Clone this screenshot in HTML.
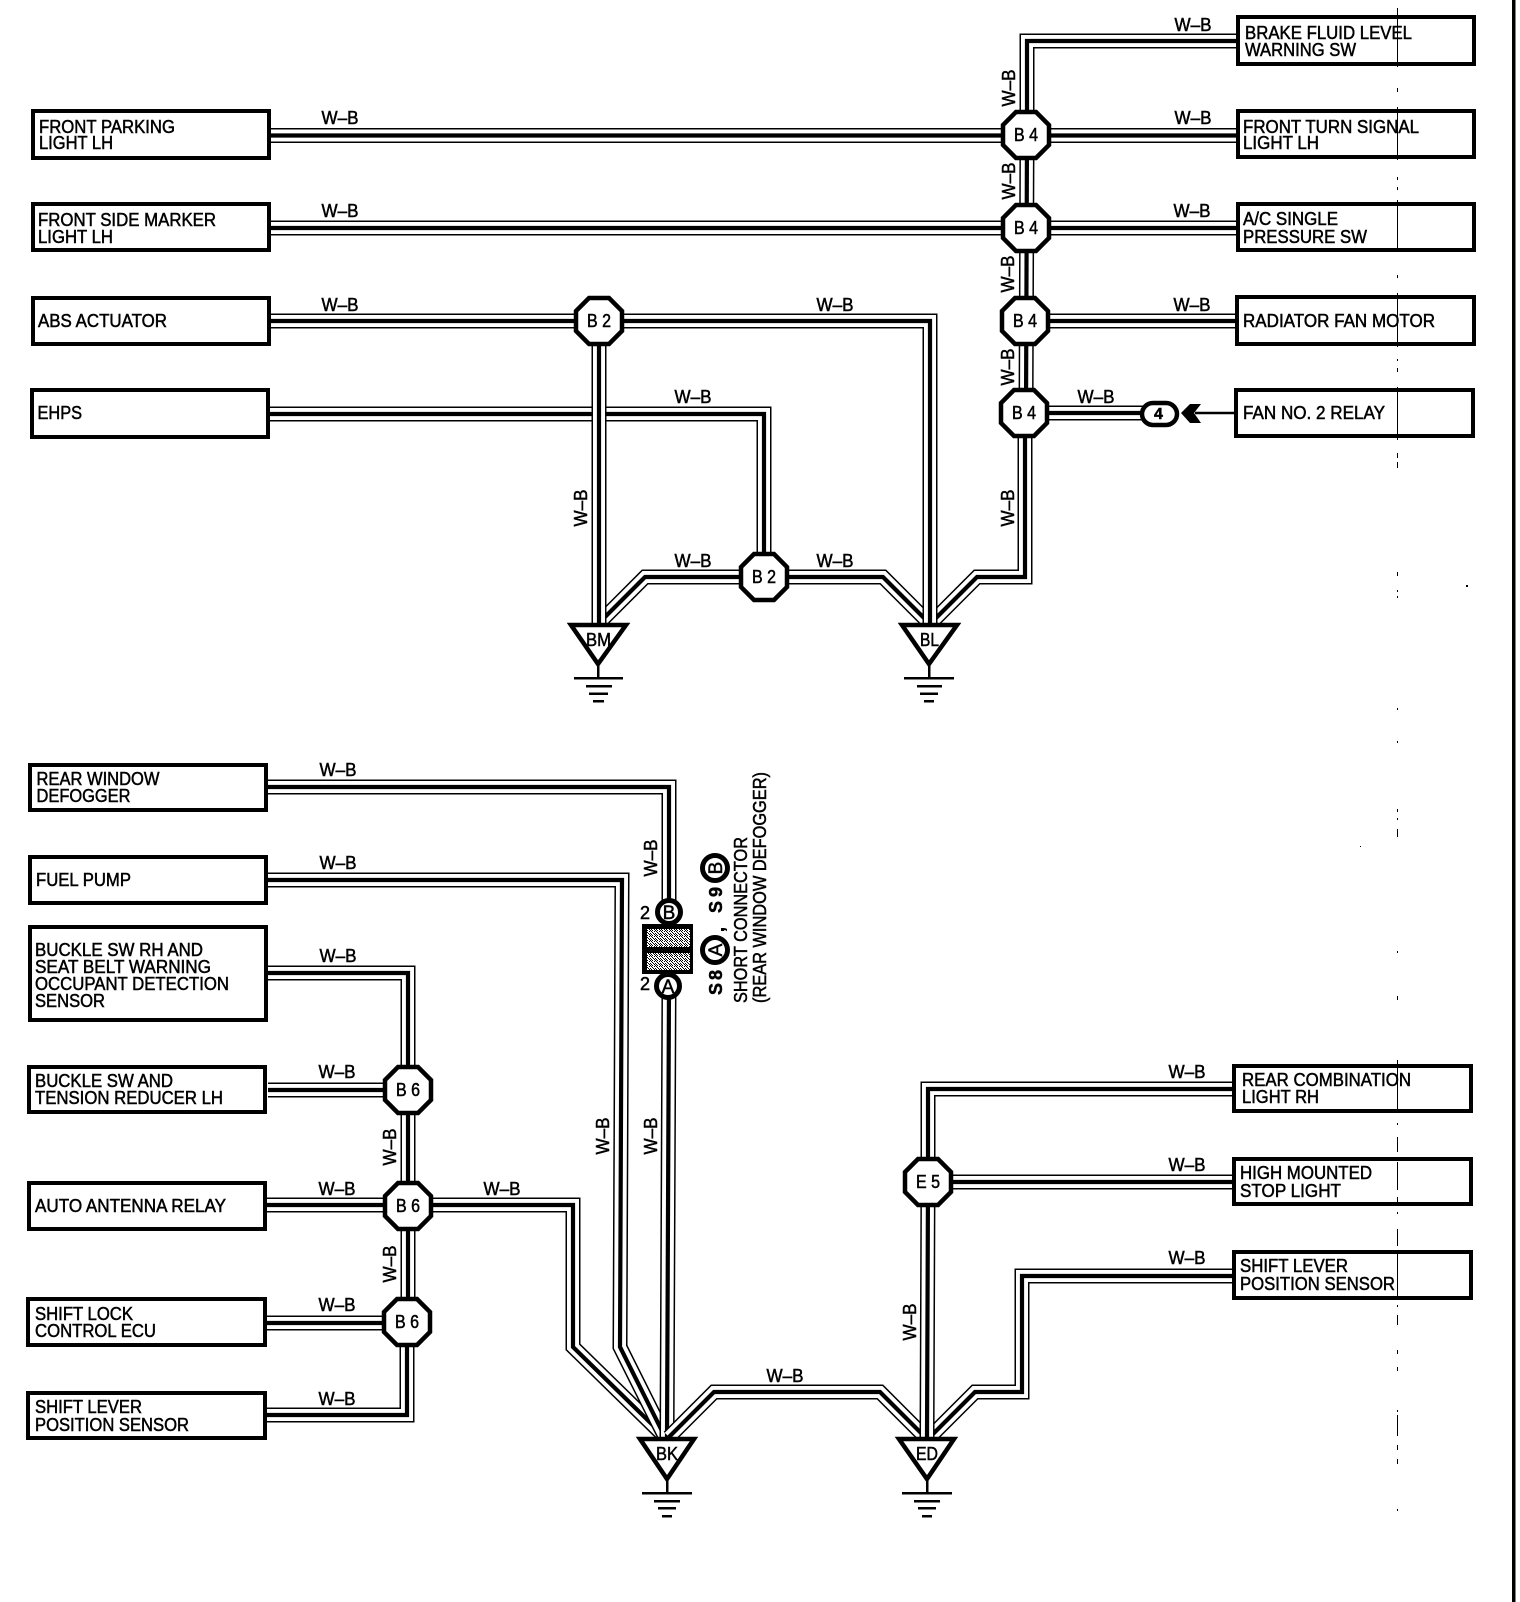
<!DOCTYPE html>
<html><head><meta charset="utf-8"><style>
html,body{margin:0;padding:0;background:#fff}
svg{display:block}
.a,.b,.c{fill:none;stroke-linejoin:miter}
.a{stroke:#000;stroke-width:15}
.b{stroke:#fff;stroke-width:12}
.c{stroke:#000;stroke-width:4.2}
text{font-family:"Liberation Sans",sans-serif;fill:#000;stroke:#000;stroke-width:.5}
.t{font-size:18px}
.w{font-size:18px}
.n{font-size:18px}
.box{fill:#fff;stroke:#000;stroke-width:4}
.d{stroke:#000;stroke-width:1}
</style></head><body>
<svg width="1520" height="1602" viewBox="0 0 1520 1602" xmlns="http://www.w3.org/2000/svg">
<defs>
<polygon id="oct" points="-10,-23 10,-23 23,-10 23,10 10,23 -10,23 -23,10 -23,-10" fill="#fff" stroke="#000" stroke-width="4.5"/>
<pattern id="st" width="5" height="5" patternUnits="userSpaceOnUse"><rect width="5" height="5" fill="#fff"/><rect width="1" height="1" fill="#000"/><rect x="2" y="0" width="1" height="1" fill="#000"/><rect x="1" y="1" width="1" height="1" fill="#000"/><rect x="4" y="1" width="1" height="1" fill="#000"/><rect x="2" y="2" width="1" height="1" fill="#000"/><rect x="0" y="3" width="1" height="1" fill="#000"/><rect x="3" y="3" width="1" height="1" fill="#000"/><rect x="1" y="4" width="1" height="1" fill="#000"/><rect x="4" y="4" width="1" height="1" fill="#000"/></pattern>
</defs>
<rect width="1520" height="1602" fill="#fff"/>
<rect x="1512" y="0" width="3.5" height="1602" fill="#000"/>
<rect x="1466" y="585" width="2" height="2" fill="#000"/>
<rect x="1360" y="846" width="1" height="1" fill="#000"/>

<!-- top wires -->
<polyline class="a" points="1240,41 1027,41 1027,110"/><polyline class="b" points="1240,41 1027,41 1027,110"/><polyline class="c" points="1240,41 1027,41 1027,110"/>
<polyline class="a" points="271,135.500 1240,135.500"/><polyline class="b" points="271,135.500 1240,135.500"/><polyline class="c" points="271,135.500 1240,135.500"/>
<polyline class="a" points="271,228 1240,228"/><polyline class="b" points="271,228 1240,228"/><polyline class="c" points="271,228 1240,228"/>
<polyline class="a" points="1027,135 1026,413"/><polyline class="b" points="1027,135 1026,413"/><polyline class="c" points="1027,135 1026,413"/>
<polyline class="a" points="1027,321 1238,321"/><polyline class="b" points="1027,321 1238,321"/><polyline class="c" points="1027,321 1238,321"/>
<polyline class="a" points="1026,413 1145,413"/><polyline class="b" points="1026,413 1145,413"/><polyline class="c" points="1026,413 1145,413"/>
<polyline class="a" points="764,577 645,577 599,623"/><polyline class="b" points="764,577 645,577 599,623"/><polyline class="c" points="764,577 645,577 599,623"/>
<polyline class="a" points="764,577 883,577 929,623"/><polyline class="b" points="764,577 883,577 929,623"/><polyline class="c" points="764,577 883,577 929,623"/>
<polyline class="a" points="1025,413 1025,577 977,577 931,623"/><polyline class="b" points="1025,413 1025,577 977,577 931,623"/><polyline class="c" points="1025,413 1025,577 977,577 931,623"/>
<polyline class="a" points="271,321 930,321 930,623"/><polyline class="b" points="271,321 930,321 930,623"/><polyline class="c" points="271,321 930,321 930,623"/>
<polyline class="a" points="270,414 764,414 764,577"/><polyline class="b" points="270,414 764,414 764,577"/><polyline class="c" points="270,414 764,414 764,577"/>
<polyline class="a" points="599,321 599,623"/><polyline class="b" points="599,321 599,623"/><polyline class="c" points="599,321 599,623"/>

<!-- bottom wires -->
<polyline class="a" points="268,787 669,787 669,913"/><polyline class="b" points="268,787 669,787 669,913"/><polyline class="c" points="268,787 669,787 669,913"/>
<polyline class="a" points="267,1205 573,1205 573,1347 665,1437"/><polyline class="b" points="267,1205 573,1205 573,1347 665,1437"/><polyline class="c" points="267,1205 573,1205 573,1347 665,1437"/>
<polyline class="a" points="268,880 622,880 620,1347 665,1437"/><polyline class="b" points="268,880 622,880 620,1347 665,1437"/><polyline class="c" points="268,880 622,880 620,1347 665,1437"/>
<polyline class="a" points="669,987 667,1437"/><polyline class="b" points="669,987 667,1437"/><polyline class="c" points="669,987 667,1437"/>
<polyline class="a" points="268,973 408,973 408,1090"/><polyline class="b" points="268,973 408,973 408,1090"/><polyline class="c" points="268,973 408,973 408,1090"/>
<polyline class="a" points="408,1090 408,1322"/><polyline class="b" points="408,1090 408,1322"/><polyline class="c" points="408,1090 408,1322"/>
<polyline class="a" points="268,1090 408,1090"/><polyline class="b" points="268,1090 408,1090"/><polyline class="c" points="268,1090 408,1090"/>
<polyline class="a" points="267,1323 407,1323"/><polyline class="b" points="267,1323 407,1323"/><polyline class="c" points="267,1323 407,1323"/>
<polyline class="a" points="267,1415 407,1415 407,1322"/><polyline class="b" points="267,1415 407,1415 407,1322"/><polyline class="c" points="267,1415 407,1415 407,1322"/>
<polyline class="a" points="669,1437 714,1392 880,1392 925,1437"/><polyline class="b" points="669,1437 714,1392 880,1392 925,1437"/><polyline class="c" points="669,1437 714,1392 880,1392 925,1437"/>
<polyline class="a" points="1236,1276 1022,1276 1022,1392 975,1392 930,1437"/><polyline class="b" points="1236,1276 1022,1276 1022,1392 975,1392 930,1437"/><polyline class="c" points="1236,1276 1022,1276 1022,1392 975,1392 930,1437"/>
<polyline class="a" points="1236,1089 928,1089 928,1182 927,1437"/><polyline class="b" points="1236,1089 928,1089 928,1182 927,1437"/><polyline class="c" points="1236,1089 928,1089 928,1182 927,1437"/>
<polyline class="a" points="928,1182 1236,1182"/><polyline class="b" points="928,1182 1236,1182"/><polyline class="c" points="928,1182 1236,1182"/>

<!-- octagons -->
<use href="#oct" x="1026" y="135"/><use href="#oct" x="1026" y="228"/><use href="#oct" x="1025" y="321"/><use href="#oct" x="1024" y="413"/>
<use href="#oct" x="599" y="321"/><use href="#oct" x="764" y="577"/>
<use href="#oct" x="408" y="1090"/><use href="#oct" x="408" y="1206"/><use href="#oct" x="407" y="1322"/><use href="#oct" x="928" y="1182"/>
<text class="n" x="1014" y="141" textLength="24" lengthAdjust="spacingAndGlyphs">B 4</text>
<text class="n" x="1014" y="234" textLength="24" lengthAdjust="spacingAndGlyphs">B 4</text>
<text class="n" x="1013" y="327" textLength="24" lengthAdjust="spacingAndGlyphs">B 4</text>
<text class="n" x="1012" y="419" textLength="24" lengthAdjust="spacingAndGlyphs">B 4</text>
<text class="n" x="587" y="327" textLength="24" lengthAdjust="spacingAndGlyphs">B 2</text>
<text class="n" x="752" y="583" textLength="24" lengthAdjust="spacingAndGlyphs">B 2</text>
<text class="n" x="396" y="1096" textLength="24" lengthAdjust="spacingAndGlyphs">B 6</text>
<text class="n" x="396" y="1212" textLength="24" lengthAdjust="spacingAndGlyphs">B 6</text>
<text class="n" x="395" y="1328" textLength="24" lengthAdjust="spacingAndGlyphs">B 6</text>
<text class="n" x="916" y="1188" textLength="24" lengthAdjust="spacingAndGlyphs">E 5</text>

<!-- boxes -->
<rect class="box" x="1238" y="17" width="236" height="47"/>
<rect class="box" x="1238" y="111" width="236" height="46"/>
<rect class="box" x="1238" y="204" width="236" height="46"/>
<rect class="box" x="1237" y="297" width="237" height="47"/>
<rect class="box" x="1236" y="390" width="237" height="46"/>
<rect class="box" x="33" y="111" width="236" height="47"/>
<rect class="box" x="33" y="204" width="236" height="46"/>
<rect class="box" x="33" y="298" width="236" height="46"/>
<rect class="box" x="32" y="390" width="236" height="47"/>
<rect class="box" x="30" y="765" width="236" height="45"/>
<rect class="box" x="30" y="857" width="236" height="46"/>
<rect class="box" x="30" y="927" width="236" height="93"/>
<rect class="box" x="29" y="1067" width="236" height="45"/>
<rect class="box" x="29" y="1183" width="236" height="46"/>
<rect class="box" x="28" y="1299" width="237" height="46"/>
<rect class="box" x="28" y="1393" width="237" height="45"/>
<rect class="box" x="1234" y="1066" width="237" height="45"/>
<rect class="box" x="1234" y="1159" width="237" height="45"/>
<rect class="box" x="1234" y="1252" width="237" height="46"/>

<!-- dashed, over the boxes -->
<g class="d">
<line x1="1397.500" y1="8" x2="1397.500" y2="67"/><line x1="1397.500" y1="88" x2="1397.500" y2="92"/><line x1="1397.500" y1="107" x2="1397.500" y2="160"/><line x1="1397.500" y1="177" x2="1397.500" y2="180"/><line x1="1397.500" y1="187" x2="1397.500" y2="190"/><line x1="1397.500" y1="200" x2="1397.500" y2="252"/><line x1="1397.500" y1="275" x2="1397.500" y2="278"/><line x1="1397.500" y1="293" x2="1397.500" y2="347"/><line x1="1397.500" y1="359" x2="1397.500" y2="361"/><line x1="1397.500" y1="368" x2="1397.500" y2="372"/><line x1="1397.500" y1="387" x2="1397.500" y2="440"/><line x1="1397.500" y1="453" x2="1397.500" y2="458"/><line x1="1397.500" y1="462" x2="1397.500" y2="468"/>
<line x1="1397.500" y1="572" x2="1397.500" y2="576"/><line x1="1397.500" y1="590" x2="1397.500" y2="592"/><line x1="1397.500" y1="596" x2="1397.500" y2="598"/><line x1="1397.500" y1="708" x2="1397.500" y2="710"/><line x1="1397.500" y1="741" x2="1397.500" y2="743"/><line x1="1397.500" y1="809" x2="1397.500" y2="812"/><line x1="1397.500" y1="818" x2="1397.500" y2="820"/><line x1="1397.500" y1="829" x2="1397.500" y2="837"/><line x1="1397.500" y1="951" x2="1397.500" y2="953"/><line x1="1397.500" y1="996" x2="1397.500" y2="1000"/>
<line x1="1397.500" y1="1060" x2="1397.500" y2="1111"/><line x1="1397.500" y1="1123" x2="1397.500" y2="1125"/><line x1="1397.500" y1="1137" x2="1397.500" y2="1152"/><line x1="1397.500" y1="1162" x2="1397.500" y2="1190"/><line x1="1397.500" y1="1197" x2="1397.500" y2="1204"/><line x1="1397.500" y1="1212" x2="1397.500" y2="1214"/><line x1="1397.500" y1="1229" x2="1397.500" y2="1246"/><line x1="1397.500" y1="1253" x2="1397.500" y2="1299"/><line x1="1397.500" y1="1305" x2="1397.500" y2="1307"/><line x1="1397.500" y1="1315" x2="1397.500" y2="1325"/><line x1="1397.500" y1="1350" x2="1397.500" y2="1354"/><line x1="1397.500" y1="1367" x2="1397.500" y2="1371"/><line x1="1397.500" y1="1410" x2="1397.500" y2="1412"/><line x1="1397.500" y1="1415" x2="1397.500" y2="1436"/><line x1="1397.500" y1="1445" x2="1397.500" y2="1450"/><line x1="1397.500" y1="1459" x2="1397.500" y2="1464"/><line x1="1397.500" y1="1509" x2="1397.500" y2="1511"/>
</g>

<!-- box text -->
<text class="t" x="1245" y="39" textLength="167" lengthAdjust="spacingAndGlyphs">BRAKE FLUID LEVEL</text>
<text class="t" x="1245" y="56" textLength="111" lengthAdjust="spacingAndGlyphs">WARNING SW</text>
<text class="t" x="1243" y="133" textLength="176" lengthAdjust="spacingAndGlyphs">FRONT TURN SIGNAL</text>
<text class="t" x="1243" y="149" textLength="76" lengthAdjust="spacingAndGlyphs">LIGHT LH</text>
<text class="t" x="1243" y="225" textLength="95" lengthAdjust="spacingAndGlyphs">A/C SINGLE</text>
<text class="t" x="1243" y="243" textLength="124" lengthAdjust="spacingAndGlyphs">PRESSURE SW</text>
<text class="t" x="1243" y="327" textLength="192" lengthAdjust="spacingAndGlyphs">RADIATOR FAN MOTOR</text>
<text class="t" x="1243" y="419" textLength="142" lengthAdjust="spacingAndGlyphs">FAN NO. 2 RELAY</text>
<text class="t" x="39" y="133" textLength="136" lengthAdjust="spacingAndGlyphs">FRONT PARKING</text>
<text class="t" x="39" y="149" textLength="74" lengthAdjust="spacingAndGlyphs">LIGHT LH</text>
<text class="t" x="38" y="226" textLength="178" lengthAdjust="spacingAndGlyphs">FRONT SIDE MARKER</text>
<text class="t" x="38" y="243" textLength="75" lengthAdjust="spacingAndGlyphs">LIGHT LH</text>
<text class="t" x="38" y="327" textLength="129" lengthAdjust="spacingAndGlyphs">ABS ACTUATOR</text>
<text class="t" x="37.500" y="419" textLength="44.500" lengthAdjust="spacingAndGlyphs">EHPS</text>
<text class="t" x="36.500" y="785" textLength="123" lengthAdjust="spacingAndGlyphs">REAR WINDOW</text>
<text class="t" x="36.500" y="802" textLength="94" lengthAdjust="spacingAndGlyphs">DEFOGGER</text>
<text class="t" x="36" y="886" textLength="95" lengthAdjust="spacingAndGlyphs">FUEL PUMP</text>
<text class="t" x="35" y="956" textLength="168" lengthAdjust="spacingAndGlyphs">BUCKLE SW RH AND</text>
<text class="t" x="35" y="973" textLength="176" lengthAdjust="spacingAndGlyphs">SEAT BELT WARNING</text>
<text class="t" x="35" y="990" textLength="194" lengthAdjust="spacingAndGlyphs">OCCUPANT DETECTION</text>
<text class="t" x="35" y="1007" textLength="70" lengthAdjust="spacingAndGlyphs">SENSOR</text>
<text class="t" x="35" y="1087" textLength="138" lengthAdjust="spacingAndGlyphs">BUCKLE SW AND</text>
<text class="t" x="35" y="1104" textLength="188" lengthAdjust="spacingAndGlyphs">TENSION REDUCER LH</text>
<text class="t" x="35" y="1212" textLength="191" lengthAdjust="spacingAndGlyphs">AUTO ANTENNA RELAY</text>
<text class="t" x="35" y="1320" textLength="98" lengthAdjust="spacingAndGlyphs">SHIFT LOCK</text>
<text class="t" x="35" y="1337" textLength="121" lengthAdjust="spacingAndGlyphs">CONTROL ECU</text>
<text class="t" x="35" y="1413" textLength="107" lengthAdjust="spacingAndGlyphs">SHIFT LEVER</text>
<text class="t" x="35" y="1431" textLength="154" lengthAdjust="spacingAndGlyphs">POSITION SENSOR</text>
<text class="t" x="1242" y="1086" textLength="169" lengthAdjust="spacingAndGlyphs">REAR COMBINATION</text>
<text class="t" x="1242" y="1103" textLength="77" lengthAdjust="spacingAndGlyphs">LIGHT RH</text>
<text class="t" x="1240" y="1179" textLength="132" lengthAdjust="spacingAndGlyphs">HIGH MOUNTED</text>
<text class="t" x="1240" y="1197" textLength="101" lengthAdjust="spacingAndGlyphs">STOP LIGHT</text>
<text class="t" x="1240" y="1272" textLength="108" lengthAdjust="spacingAndGlyphs">SHIFT LEVER</text>
<text class="t" x="1240" y="1290" textLength="155" lengthAdjust="spacingAndGlyphs">POSITION SENSOR</text>

<!-- W-B labels horizontal -->
<g transform="translate(0 -1)">
<text class="w" x="1174.500" y="32" textLength="37" lengthAdjust="spacingAndGlyphs">W–B</text>
<text class="w" x="1174.500" y="125" textLength="37" lengthAdjust="spacingAndGlyphs">W–B</text>
<text class="w" x="1173.500" y="218" textLength="37" lengthAdjust="spacingAndGlyphs">W–B</text>
<text class="w" x="1173.500" y="312" textLength="37" lengthAdjust="spacingAndGlyphs">W–B</text>
<text class="w" x="1077.500" y="404" textLength="37" lengthAdjust="spacingAndGlyphs">W–B</text>
<text class="w" x="321.500" y="125" textLength="37" lengthAdjust="spacingAndGlyphs">W–B</text>
<text class="w" x="321.500" y="218" textLength="37" lengthAdjust="spacingAndGlyphs">W–B</text>
<text class="w" x="321.500" y="312" textLength="37" lengthAdjust="spacingAndGlyphs">W–B</text>
<text class="w" x="816.500" y="312" textLength="37" lengthAdjust="spacingAndGlyphs">W–B</text>
<text class="w" x="674.500" y="404" textLength="37" lengthAdjust="spacingAndGlyphs">W–B</text>
<text class="w" x="674.500" y="568" textLength="37" lengthAdjust="spacingAndGlyphs">W–B</text>
<text class="w" x="816.500" y="568" textLength="37" lengthAdjust="spacingAndGlyphs">W–B</text>
<text class="w" x="319.500" y="777" textLength="37" lengthAdjust="spacingAndGlyphs">W–B</text>
<text class="w" x="319.500" y="870" textLength="37" lengthAdjust="spacingAndGlyphs">W–B</text>
<text class="w" x="319.500" y="963" textLength="37" lengthAdjust="spacingAndGlyphs">W–B</text>
<text class="w" x="318.500" y="1079" textLength="37" lengthAdjust="spacingAndGlyphs">W–B</text>
<text class="w" x="318.500" y="1196" textLength="37" lengthAdjust="spacingAndGlyphs">W–B</text>
<text class="w" x="483.500" y="1196" textLength="37" lengthAdjust="spacingAndGlyphs">W–B</text>
<text class="w" x="318.500" y="1312" textLength="37" lengthAdjust="spacingAndGlyphs">W–B</text>
<text class="w" x="318.500" y="1406" textLength="37" lengthAdjust="spacingAndGlyphs">W–B</text>
<text class="w" x="1168.500" y="1079" textLength="37" lengthAdjust="spacingAndGlyphs">W–B</text>
<text class="w" x="1168.500" y="1172" textLength="37" lengthAdjust="spacingAndGlyphs">W–B</text>
<text class="w" x="1168.500" y="1265" textLength="37" lengthAdjust="spacingAndGlyphs">W–B</text>
<text class="w" x="766.500" y="1383" textLength="37" lengthAdjust="spacingAndGlyphs">W–B</text>
</g>

<!-- W-B labels vertical -->
<text class="w" transform="translate(1015 106.500) rotate(-90)" textLength="37" lengthAdjust="spacingAndGlyphs">W–B</text>
<text class="w" transform="translate(1015 199.500) rotate(-90)" textLength="37" lengthAdjust="spacingAndGlyphs">W–B</text>
<text class="w" transform="translate(1014 292.500) rotate(-90)" textLength="37" lengthAdjust="spacingAndGlyphs">W–B</text>
<text class="w" transform="translate(1014 385.500) rotate(-90)" textLength="37" lengthAdjust="spacingAndGlyphs">W–B</text>
<text class="w" transform="translate(1014 526.500) rotate(-90)" textLength="37" lengthAdjust="spacingAndGlyphs">W–B</text>
<text class="w" transform="translate(587 526.500) rotate(-90)" textLength="37" lengthAdjust="spacingAndGlyphs">W–B</text>
<text class="w" transform="translate(657 876.500) rotate(-90)" textLength="37" lengthAdjust="spacingAndGlyphs">W–B</text>
<text class="w" transform="translate(609 1154.500) rotate(-90)" textLength="37" lengthAdjust="spacingAndGlyphs">W–B</text>
<text class="w" transform="translate(657 1154.500) rotate(-90)" textLength="37" lengthAdjust="spacingAndGlyphs">W–B</text>
<text class="w" transform="translate(396 1165.500) rotate(-90)" textLength="37" lengthAdjust="spacingAndGlyphs">W–B</text>
<text class="w" transform="translate(396 1282.500) rotate(-90)" textLength="37" lengthAdjust="spacingAndGlyphs">W–B</text>
<text class="w" transform="translate(916 1340.500) rotate(-90)" textLength="37" lengthAdjust="spacingAndGlyphs">W–B</text>

<!-- connector 4 -->
<rect x="1142" y="403" width="35" height="22" rx="11" ry="11" fill="#fff" stroke="#000" stroke-width="4.500"/>
<text x="1154" y="419" style="font-size:16px;font-weight:bold">4</text>
<polygon points="1181,413 1190,404 1201,404 1194,413 1201,423 1190,423" fill="#000"/>
<line x1="1195" y1="413" x2="1236" y2="413" stroke="#000" stroke-width="2.500"/>

<!-- grounds -->
<g fill="#000">
<rect x="597" y="665" width="2.500" height="13"/><rect x="574" y="677" width="49" height="2.500"/><rect x="586" y="685" width="26" height="2.500"/><rect x="589" y="692.500" width="19" height="2.500"/><rect x="593" y="700" width="11" height="2.500"/>
<rect x="928" y="665" width="2.500" height="13"/><rect x="904" y="677" width="50" height="2.500"/><rect x="917" y="685" width="25" height="2.500"/><rect x="920" y="692.500" width="18" height="2.500"/><rect x="924" y="700" width="10" height="2.500"/>
<rect x="666" y="1480" width="2.500" height="13"/><rect x="642" y="1492" width="50" height="2.500"/><rect x="654" y="1500" width="26" height="2.500"/><rect x="658" y="1507" width="18" height="2.500"/><rect x="662" y="1515" width="10" height="2.500"/>
<rect x="926" y="1480" width="2.500" height="13"/><rect x="902" y="1492" width="50" height="2.500"/><rect x="914" y="1500" width="26" height="2.500"/><rect x="918" y="1507" width="18" height="2.500"/><rect x="922" y="1515" width="10" height="2.500"/>
</g>
<polygon points="571,625 626,625 598,664" fill="#fff" stroke="#000" stroke-width="4.500"/>
<polygon points="902,625 957,625 929,664" fill="#fff" stroke="#000" stroke-width="4.500"/>
<polygon points="640,1439 694,1439 667,1479" fill="#fff" stroke="#000" stroke-width="4.500"/>
<polygon points="899,1439 954,1439 927,1479" fill="#fff" stroke="#000" stroke-width="4.500"/>
<text class="t" x="586" y="646" textLength="25" lengthAdjust="spacingAndGlyphs">BM</text>
<text class="t" x="920" y="646" textLength="19" lengthAdjust="spacingAndGlyphs">BL</text>
<text class="t" x="656" y="1460" textLength="22" lengthAdjust="spacingAndGlyphs">BK</text>
<text class="t" x="916" y="1460" textLength="22" lengthAdjust="spacingAndGlyphs">ED</text>

<!-- short connector -->
<rect x="642" y="924" width="51" height="50" fill="#000"/>
<rect x="647" y="929" width="43" height="18" fill="url(#st)"/>
<rect x="647" y="953" width="43" height="17" fill="url(#st)"/>
<circle cx="669" cy="912" r="11.500" fill="#fff" stroke="#000" stroke-width="5"/>
<circle cx="668" cy="986" r="11.500" fill="#fff" stroke="#000" stroke-width="5"/>
<text x="669" y="919" text-anchor="middle" style="font-size:19px">B</text>
<text x="668" y="993" text-anchor="middle" style="font-size:19px">A</text>
<text x="640" y="919" style="font-size:18px">2</text>
<text x="640" y="990" style="font-size:18px">2</text>

<circle cx="715" cy="950" r="12.500" fill="#fff" stroke="#000" stroke-width="5"/>
<circle cx="715" cy="868" r="12.500" fill="#fff" stroke="#000" stroke-width="5"/>
<text transform="translate(722 950) rotate(-90)" text-anchor="middle" style="font-size:19px">A</text>
<text transform="translate(722 868) rotate(-90)" text-anchor="middle" style="font-size:19px">B</text>
<text transform="translate(722 995) rotate(-90)" textLength="25" lengthAdjust="spacing" style="font-size:18px;font-weight:bold">S 8</text>
<text transform="translate(722 913) rotate(-90)" textLength="26" lengthAdjust="spacing" style="font-size:18px;font-weight:bold">S 9</text>
<text transform="translate(724 932) rotate(-90)" style="font-size:18px;font-weight:bold">,</text>
<text class="t" transform="translate(747 1003) rotate(-90)" textLength="166" lengthAdjust="spacingAndGlyphs">SHORT CONNECTOR</text>
<text class="t" transform="translate(766 1003) rotate(-90)" textLength="231" lengthAdjust="spacingAndGlyphs">(REAR WINDOW DEFOGGER)</text>
</svg>
</body></html>
